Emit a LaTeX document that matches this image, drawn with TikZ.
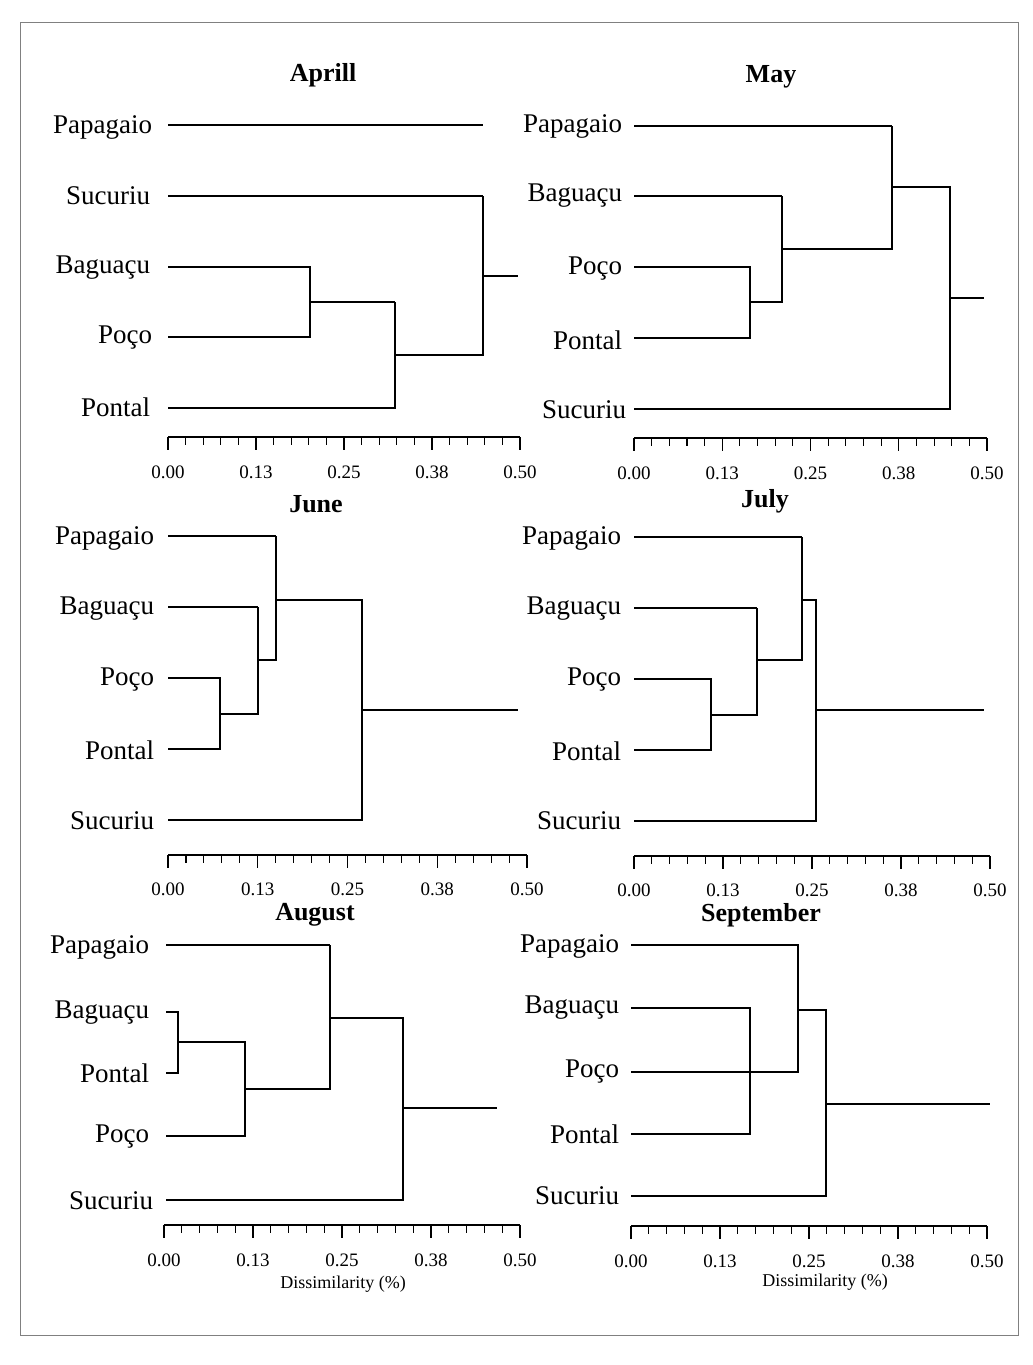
\documentclass[tikz,border=0pt]{standalone}
\usepackage{fontspec}
\setmainfont{Liberation Serif}
\begin{document}
\begin{tikzpicture}[x=1pt,y=-1pt,line width=1.1pt,
  lab/.style={anchor=east,font=\fontsize{27}{27}\selectfont,yshift=-2pt},
  ttl/.style={font=\bfseries\fontsize{26}{26}\selectfont},
  num/.style={font=\fontsize{19}{19}\selectfont},
  dl/.style={font=\fontsize{18}{18}\selectfont}]
\useasboundingbox (0,0) rectangle (1033,1365);
\fill[white] (0,0) rectangle (1033,1365);
\draw[line width=0.7pt,gray] (20,22) rectangle (1018,1335);
\newcommand\myaxis[4]{% x0 x1 y labely
  \draw (#1,#3) -- (#2,#3);
  \foreach \i in {0,...,20}{
    \pgfmathsetmacro\xx{#1+(#2-#1)*\i/20}
    \pgfmathtruncatemacro\m{mod(\i,5)}
    \ifnum\m=0 \draw (\xx,#3) -- (\xx,#3+13);\else \draw (\xx,#3) -- (\xx,#3+8);\fi}
  \foreach \i/\t in {0/0.00,1/0.13,2/0.25,3/0.38,4/0.50}{
    \pgfmathsetmacro\xx{#1+(#2-#1)*\i/4}
    \node[num] at (\xx,#4) {\t};}}
% April
\node[ttl] at (323,75) {Aprill};
\node[lab] at (156,125) {Papagaio};
\node[lab] at (154,194) {Sucuriu};
\node[lab] at (154,266) {Baguaçu};
\node[lab] at (156,336) {Poço};
\node[lab] at (154,405) {Pontal};
\draw (168,125) -- (483,125);
\draw (168,196) -- (483,196);
\draw (168,267) -- (310,267) -- (310,337) -- (168,337);
\draw (310,302) -- (395,302);
\draw (168,408) -- (395,408) -- (395,302);
\draw (395,355) -- (483,355) -- (483,196);
\draw (483,276) -- (518,276);
\myaxis{168}{520}{437}{472}
% May
\node[ttl] at (771,77) {May};
\node[lab] at (626,124) {Papagaio};
\node[lab] at (626,194) {Baguaçu};
\node[lab] at (626,267) {Poço};
\node[lab] at (626,338) {Pontal};
\node[lab] at (630,408) {Sucuriu};
\draw (634,126) -- (892,126);
\draw (634,196) -- (782,196);
\draw (634,267) -- (750,267) -- (750,338) -- (634,338);
\draw (750,302) -- (782,302) -- (782,196);
\draw (782,249) -- (892,249) -- (892,126);
\draw (892,187) -- (950,187) -- (950,409) -- (634,409);
\draw (950,298) -- (984,298);
\myaxis{634}{987}{438}{473}
% June
\node[ttl] at (316,504) {June};
\node[lab] at (158,536) {Papagaio};
\node[lab] at (158,607) {Baguaçu};
\node[lab] at (158,678) {Poço};
\node[lab] at (158,748) {Pontal};
\node[lab] at (158,819) {Sucuriu};
\draw (168,536) -- (276,536);
\draw (168,607) -- (258,607);
\draw (168,678) -- (220,678) -- (220,749) -- (168,749);
\draw (220,714) -- (258,714) -- (258,607);
\draw (258,660) -- (276,660) -- (276,536);
\draw (276,600) -- (362,600) -- (362,820) -- (168,820);
\draw (362,710) -- (518,710);
\myaxis{168}{527}{855}{889}
% July
\node[ttl] at (765,501) {July};
\node[lab] at (625,536) {Papagaio};
\node[lab] at (625,607) {Baguaçu};
\node[lab] at (625,678) {Poço};
\node[lab] at (625,749) {Pontal};
\node[lab] at (625,819) {Sucuriu};
\draw (634,537) -- (802,537);
\draw (634,608) -- (757,608);
\draw (634,679) -- (711,679) -- (711,750) -- (634,750);
\draw (711,715) -- (757,715) -- (757,608);
\draw (757,660) -- (802,660) -- (802,537);
\draw (802,600) -- (816,600) -- (816,821) -- (634,821);
\draw (816,710) -- (984,710);
\myaxis{634}{990}{856}{890}
% August
\node[ttl] at (315,915) {August};
\node[lab] at (153,945) {Papagaio};
\node[lab] at (153,1011) {Baguaçu};
\node[lab] at (153,1071) {Pontal};
\node[lab] at (153,1135) {Poço};
\node[lab] at (157,1199) {Sucuriu};
\draw (166,945) -- (330,945);
\draw (166,1012) -- (178,1012) -- (178,1073) -- (166,1073);
\draw (178,1042) -- (245,1042) -- (245,1136) -- (166,1136);
\draw (245,1089) -- (330,1089) -- (330,945);
\draw (330,1018) -- (403,1018) -- (403,1200) -- (166,1200);
\draw (403,1108) -- (497,1108);
\myaxis{164}{520}{1225}{1260}
\node[dl] at (343,1284) {Dissimilarity (\%)};
% September
\node[ttl] at (761,915) {September};
\node[lab] at (623,944) {Papagaio};
\node[lab] at (623,1006) {Baguaçu};
\node[lab] at (623,1070) {Poço};
\node[lab] at (623,1132) {Pontal};
\node[lab] at (623,1194) {Sucuriu};
\draw (631,945) -- (798,945) -- (798,1072) -- (631,1072);
\draw (631,1008) -- (750,1008) -- (750,1134) -- (631,1134);
\draw (798,1010) -- (826,1010) -- (826,1196) -- (631,1196);
\draw (826,1104) -- (990,1104);
\myaxis{631}{987}{1226}{1261}
\node[dl] at (825,1282) {Dissimilarity (\%)};
\end{tikzpicture}
\end{document}
